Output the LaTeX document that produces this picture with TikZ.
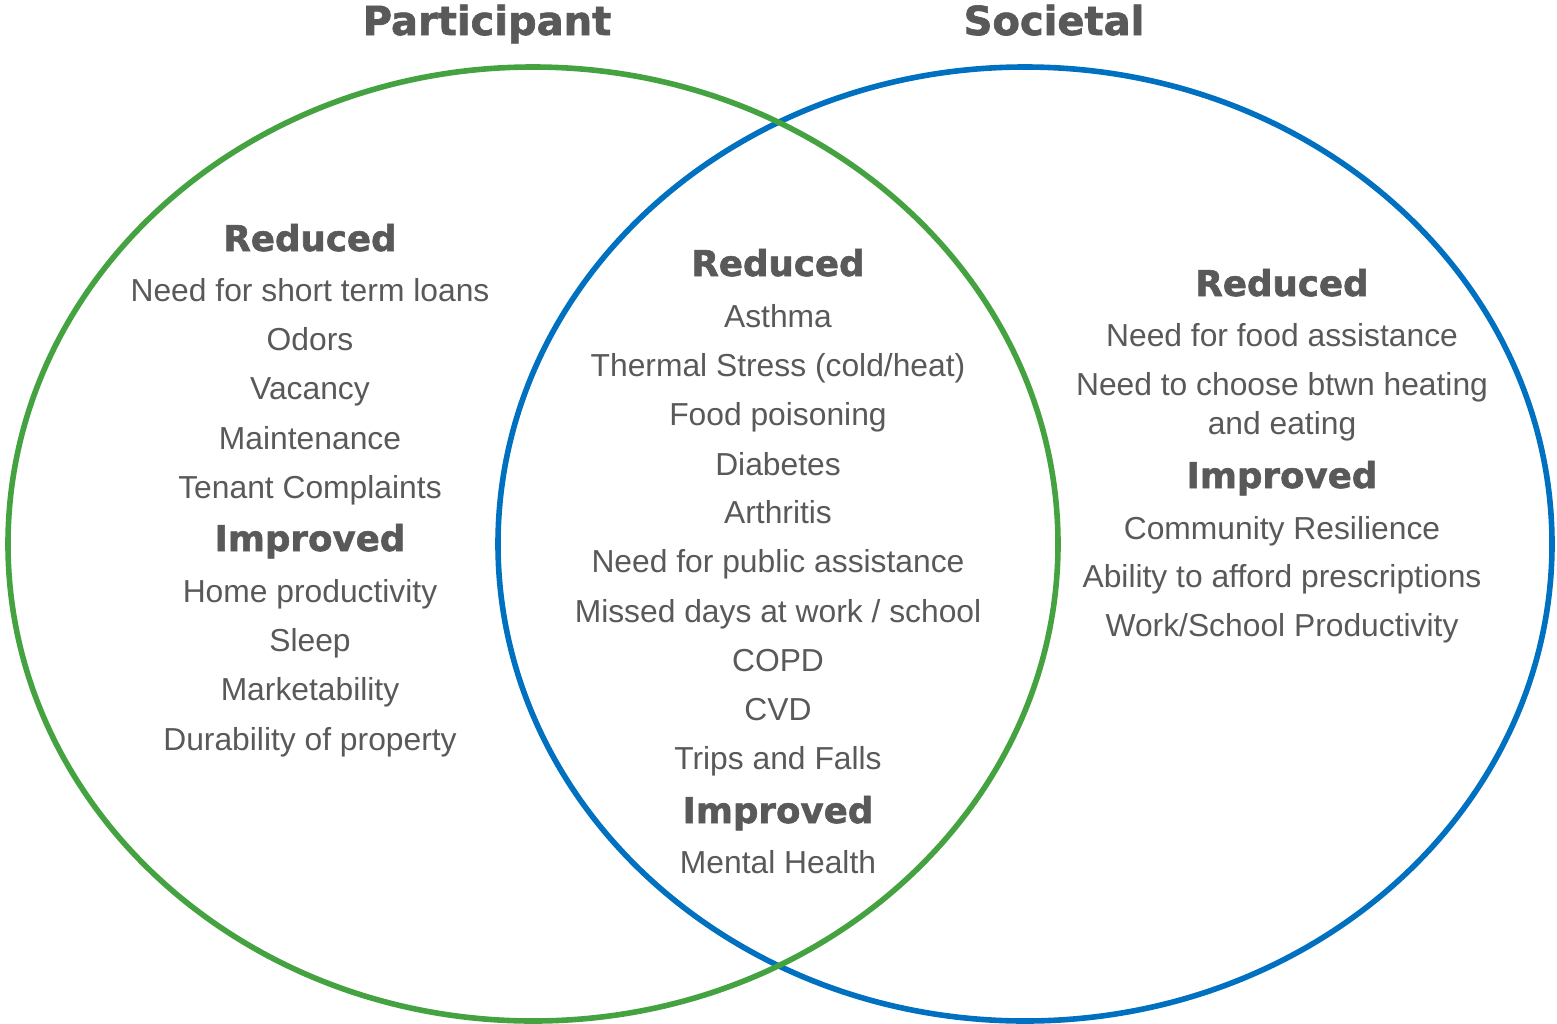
\documentclass[tikz,border=0pt]{standalone}
\usepackage{fontspec}
\setmainfont{Liberation Sans}
\newfontfamily\headfont{DejaVu Sans}[BoldFont={DejaVu Sans Bold}, BoldFeatures={FakeBold=1.6}]
\definecolor{vgreen}{HTML}{44A340}
\definecolor{vblue}{HTML}{0070C0}
\definecolor{txt}{HTML}{595959}
\tikzset{
  body/.style={anchor=base, text=txt, inner sep=0pt, font=\fontsize{15.9pt}{18pt}\selectfont},
  head/.style={anchor=base, text=txt, inner sep=0pt, font=\headfont\bfseries\fontsize{17.8pt}{20pt}\selectfont},
  ttl/.style={anchor=base, text=txt, inner sep=0pt, font=\headfont\bfseries\fontsize{20pt}{22pt}\selectfont},
  ring/.style={line width=2.8pt}
}
\begin{document}
\begin{tikzpicture}[x=0.5pt,y=-0.5pt]
\useasboundingbox (0,0) rectangle (1557,1023);
\draw[ring, vblue] (1025,544) ellipse [x radius=527, y radius=477];
\draw[ring, vgreen] (533,544) ellipse [x radius=525, y radius=477];
% titles
\node[ttl] (tP) at (487,35) {Participant};
\node[ttl] (tS) at (1054,35) {Societal};
% left
\node[head] (L0) at (310,251) {Reduced};
\node[body] (L1) at (310,301) {Need for short term loans};
\node[body] (L2) at (310,350) {Odors};
\node[body] (L3) at (310,399) {Vacancy};
\node[body] (L4) at (310,449) {Maintenance};
\node[body] (L5) at (310,498) {Tenant Complaints};
\node[head] (L6) at (310,551) {Improved};
\node[body] (L7) at (310,602) {Home productivity};
\node[body] (L8) at (310,651) {Sleep};
\node[body] (L9) at (310,700) {Marketability};
\node[body] (L10) at (310,750) {Durability of property};
% middle
\node[head] (M0) at (778,276) {Reduced};
\node[body] (M1) at (778,327) {Asthma};
\node[body] (M2) at (778,376) {Thermal Stress (cold/heat)};
\node[body] (M3) at (778,425) {Food poisoning};
\node[body] (M4) at (778,475) {Diabetes};
\node[body] (M5) at (778,523) {Arthritis};
\node[body] (M6) at (778,572) {Need for public assistance};
\node[body] (M7) at (778,622) {Missed days at work / school};
\node[body] (M8) at (778,671) {COPD};
\node[body] (M9) at (778,720) {CVD};
\node[body] (M10) at (778,769) {Trips and Falls};
\node[head] (M11) at (778,823) {Improved};
\node[body] (M12) at (778,873) {Mental Health};
% right
\node[head] (R0) at (1282,296) {Reduced};
\node[body] (R1) at (1282,346) {Need for food assistance};
\node[body] (R2) at (1282,395) {Need to choose btwn heating};
\node[body] (R3) at (1282,434) {and eating};
\node[head] (R4) at (1282,488) {Improved};
\node[body] (R5) at (1282,539) {Community Resilience};
\node[body] (R6) at (1282,587) {Ability to afford prescriptions};
\node[body] (R7) at (1282,636) {Work/School Productivity};
\end{tikzpicture}
\end{document}
